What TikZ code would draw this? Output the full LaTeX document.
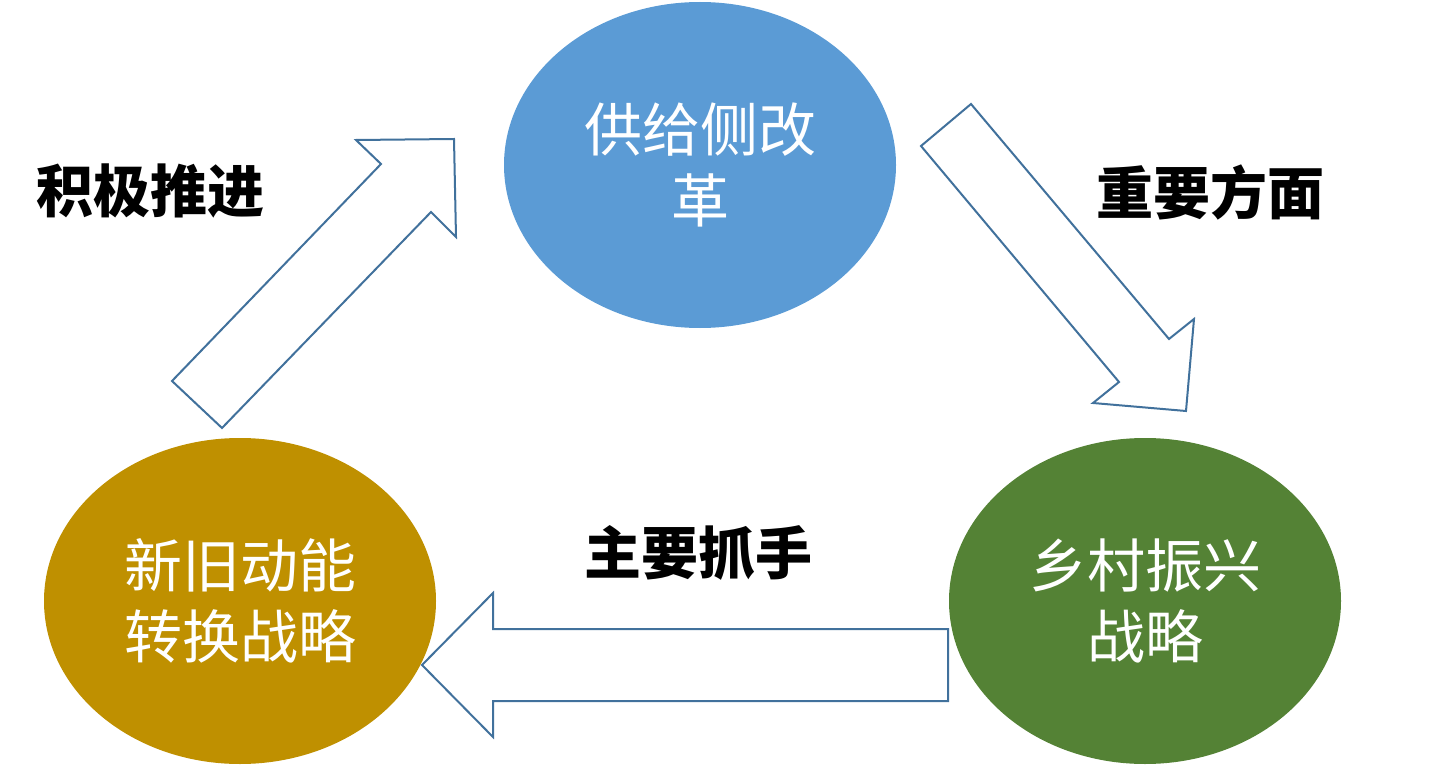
\documentclass[tikz,border=0pt]{standalone}
\usepackage{fontspec}
\newfontfamily\cjk{Noto Sans CJK SC}
\usepackage{xcolor}
\usetikzlibrary{shapes,positioning}
\definecolor{supplyblue}{HTML}{5B9BD5}
\definecolor{energygold}{HTML}{BF9000}
\definecolor{ruralgreen}{HTML}{548235}
\definecolor{arrowedge}{HTML}{41719C}
\tikzset{
  stage/.style={ellipse,minimum width=392pt,minimum height=326pt,inner sep=0pt,
    text=white,align=center,font=\cjk\fontsize{58}{71}\selectfont},
  blockarrow/.style={draw=arrowedge,line width=2pt,fill=white,line join=miter},
  tag/.style={font=\cjk\bfseries\fontsize{57}{68}\selectfont}
}
\begin{document}
\begin{tikzpicture}[x=1pt,y=-1pt]
\useasboundingbox (0,0) rectangle (1438,765);
\node[stage,fill=supplyblue] (supply) at (700,165) {供给侧改\\革};
\node[stage,fill=energygold] (energy) at (240,601) {新旧动能\\转换战略};
\node[stage,fill=ruralgreen] (rural) at (1145,601) {乡村振兴\\战略};
\draw[blockarrow] (172,381) -- (381,164) -- (356,140) -- (454,139) -- (456,237) -- (431,212) -- (222,428) -- cycle;
\draw[blockarrow] (921,146) -- (971,104) -- (1169,339) -- (1194,319) -- (1186,411) -- (1093,403) -- (1119,382) -- cycle;
\draw[blockarrow] (948,629) -- (493,629) -- (493,593) -- (422,665) -- (493,737) -- (493,701) -- (948,701) -- cycle;
\node[tag] (push) at (150,191) {积极推进};
\node[tag] (aspect) at (1210,192) {重要方面};
\node[tag] (grip) at (698,553) {主要抓手};
\end{tikzpicture}
\end{document}
